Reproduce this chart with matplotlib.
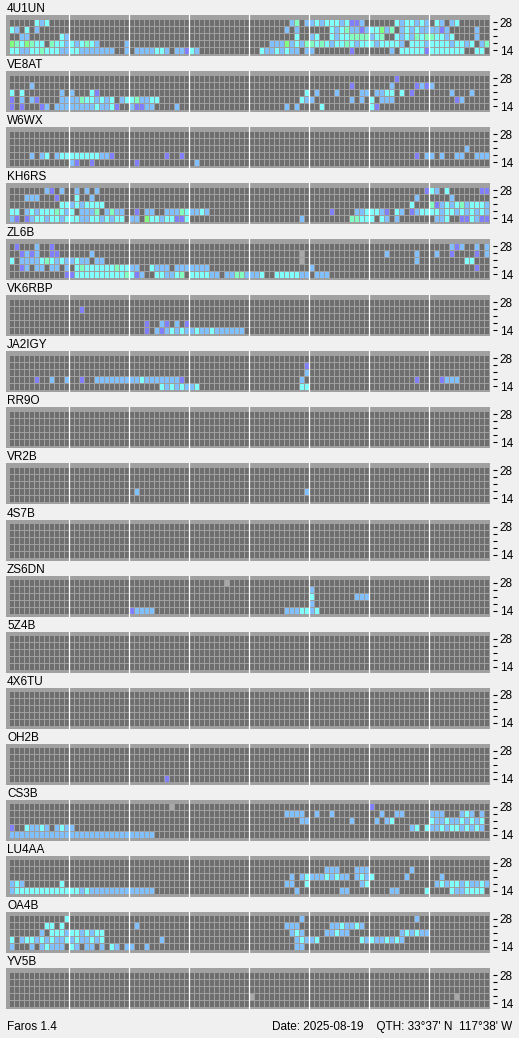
import numpy as np
import matplotlib.pyplot as plt
from matplotlib.colors import ListedColormap, BoundaryNorm

W, H = 519, 1038
n_slots = 96
band_labels = ["28", "", "", "", "14"]   # rows: 28, 24, 21, 18, 14 MHz

# colour codes: . none, p weak ... g strong, x not heard (light gray)
codes = ".pbcmgx"
cell_colors = ["#6e6e6e", "#8080ff", "#80c0ff", "#80ffff", "#80ffc0", "#80ff80", "#a8a8a8"]

stations = ["4U1UN", "VE8AT", "W6WX", "KH6RS", "ZL6B", "VK6RBP", "JA2IGY", "RR9O", "VR2B",
            "4S7B", "ZS6DN", "5Z4B", "4X6TU", "OH2B", "CS3B", "LU4AA", "OA4B", "YV5B"]

# each row: "start:run" tokens, run = consecutive slot colours from start
grid_4U1UN = [
    "5:cbc 56:bm.bbcbcccbcppb 77:cbccbcb.cb.bc",
    "0:cb.c.b 55:b.b 64:cbcmbbpbccgbm.bcbcbb 84:bbpb 93:b",
    "2:bb 10:cb 57:c 60:bc..cbccmmmmbcm..cbcbmcmmccbc 93:b",
    "0:gmcgmcc.mccbcbcmcb 23:b 52:bbbgbcbmmcmcbccmcbcccbccccb.cccbccccbccbc.bm",
    "0:ccbbccmcccbbccbbbbbbb 23:b 25:bbbbccb 33:bbpcb 50:cbbcbcbb.bb 68:p 76:b 78:cccccpccccccc 93:cc",
]
grid_VE8AT = [
    "77:p",
    "4:b 68:p 76:b 81:pbpb",
    "0:c.c 10:b.b 16:cp 59:c.b 65:b 70:bb.bbcc.c.p 88:b 92:b",
    "0:p.b.bp 10:bbbbmccbcbc.bccmbbcc 58:cbb 68:b.b.c.bbb 89:pb",
    "0:p.p...pb.bbbbbbbbcbbcp..bppbb 33:b 55:b.b 62:c 72:cp",
]
grid_W6WX = [
    "",
    "",
    "91:b",
    "4:b.bc.bccccccccbbp 31:p 34:p 81:p.bb.b..bb..bbb",
    "12:bp 16:p 25:p 37:b",
]
grid_KH6RS = [
    "7:bp.b 13:b.b.b 83:pcb.c 94:pp",
    "3:bbb...p 13:c..b 81:b 88:b",
    "10:ccbcbcccc 80:c 84:mpbcbcmbcccb",
    "0:cc.bcbcccmcbc.bbbm.bmbb 25:p.bb..bbbmcbbcb 64:p 69:bbcccbp.cb.pbccccbccbcbcbcb",
    "0:bp.pbccbccbcccbbccbcbcc 24:bb.gccbccppc 58:b 68:mmcc 72:c.cb.b 85:bbc..ppcbpp",
]
grid_ZL6B = [
    "1:p 5:b 8:p 88:bpb 93:b 95:b",
    "2:pbpb 8:pp 16:b 58:x 75:b 81:b 85:b 88:p 93:p 95:b",
    "0:c.bbbbcmcbcbbcbb.bb 58:x 81:b 91:cc",
    "2:pb.bb.bb.b.cmccccccmccbb..cbbb.bbbbbbb 60:b 93:p",
    "11:ppccccccccccmcpb..ccbbcm.ccccbb.bbmmbbbc..cccccbb.bbb",
]
grid_VK6RBP = [
    "",
    "14:p",
    "",
    "27:p 30:bp.b.p",
    "27:p.bpbcbcbbcbbcbbbbbb",
]
grid_JA2IGY = [
    "",
    "59:p",
    "59:b",
    "5:p 8:b 11:b 14:p 17:bbbbbbbbbcbbbbbbbp 58:b 81:p 86:pbbb",
    "30:cbcbcbbc 58:cc",
]
grid_RR9O = ["", "", "", "", ""]
grid_VR2B = ["", "", "", "25:b 59:b", ""]
grid_4S7B = ["", "", "", "", ""]
grid_ZS6DN = [
    "43:x",
    "60:b",
    "60:c 69:bbb",
    "60:b",
    "24:pbbbb 55:bbbccbc",
]
grid_5Z4B = ["", "", "", "", ""]
grid_4X6TU = ["", "", "", "", ""]
grid_OH2B = ["", "", "", "", "31:p"]
grid_CS3B = [
    "32:x 72:p",
    "55:bbbb 61:b 64:b 74:b 77:bb 84:bbb 90:bcb 94:b",
    "58:bb 68:b 73:b.bc 84:cbbcbbcbcbc",
    "0:p..cbbcb.bcbb 80:bc.cbbcbccbcbcb",
    "0:bbbbbbbbbbbbbbbbbbbbbbbbbbbbb",
]
grid_LU4AA = [
    "",
    "63:bbb 69:bbb 80:b",
    "56:b.bcbbbcbcbb.bcbc 79:b 86:b",
    "0:bcb 10:c 55:bb 59:c 70:bc 85:bcbccbcbbcb",
    "0:bcccccccccccccbcbbbbbbbbbbbbb 57:b 66:bb 76:bb 83:c 88:cbbcccc",
]
grid_OA4B = [
    "11:c 58:b 81:b",
    "7:cc 10:c 25:b 55:bbb 64:bbcbbcb",
    "6:b.cccbccbcbcc 56:bcb 63:bbcbb 78:bcbcbb",
    "0:c.bccbcbcbbcbcbbcbc 30:b 57:bcbbc 70:cbcbbcbcb",
    "0:b...b.bcbbb.cb.bb.b.cb.bb..b 57:bb",
]
grid_YV5B = ["", "", "", "48:x 89:x", ""]

grids = [grid_4U1UN, grid_VE8AT, grid_W6WX, grid_KH6RS, grid_ZL6B, grid_VK6RBP,
         grid_JA2IGY, grid_RR9O, grid_VR2B, grid_4S7B, grid_ZS6DN, grid_5Z4B,
         grid_4X6TU, grid_OH2B, grid_CS3B, grid_LU4AA, grid_OA4B, grid_YV5B]


def expand(rows):
    out = np.zeros((5, n_slots), dtype=int)
    for r, spec in enumerate(rows):
        for tok in spec.split():
            start, run = tok.split(":")
            for i, ch in enumerate(run):
                if int(start) + i < n_slots:
                    out[r, int(start) + i] = codes.index(ch)
    return out


cmap = ListedColormap(cell_colors)
norm = BoundaryNorm(np.arange(len(cell_colors) + 1) - 0.5, len(cell_colors))
frame = "#a0a0a0"

fig = plt.figure(figsize=(W / 100, H / 100), dpi=100, facecolor="#f0f0f0")
plt.rcParams["font.family"] = ["Liberation Sans", "DejaVu Sans"]

top0, pitch = 15, 56.06
for k, (name, rows) in enumerate(zip(stations, grids)):
    top = top0 + pitch * k
    ax = fig.add_axes([6 / W, 1 - (top + 41) / H, 484 / W, 41 / H])
    ax.set_facecolor(frame)
    data = expand(rows)
    ax.pcolormesh(np.arange(n_slots + 1) - 0.5, np.arange(6) - 0.5, data,
                  cmap=cmap, norm=norm, edgecolors=frame, linewidth=0.7)
    for s in range(12, n_slots, 12):
        ax.axvline(s - 0.5, color="white", lw=0.9)
    ax.set_xlim(-1.0, 95.8)
    ax.set_ylim(4.857, -1.0)
    ax.set_xticks([])
    ax.yaxis.tick_right()
    ax.set_yticks(range(5))
    ax.set_yticklabels(band_labels)
    ax.tick_params(axis="y", length=3, width=0.8, pad=1.5, labelsize=8.5)
    for sp in ax.spines.values():
        sp.set_visible(False)
    ax.spines["right"].set_position(("outward", 2.5))
    fig.text(7 / W, 1 - (top - 3) / H, name, fontsize=8.5, va="baseline")

fig.text(7 / W, 1 - 1030 / H, "Faros 1.4", fontsize=8.5, va="baseline")
fig.text(512 / W, 1 - 1030 / H, "Date: 2025-08-19    QTH: 33°37' N  117°38' W",
         fontsize=8.5, va="baseline", ha="right")

fig.savefig("out.png", dpi=100, facecolor=fig.get_facecolor())
